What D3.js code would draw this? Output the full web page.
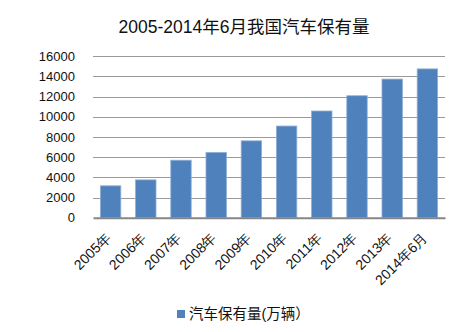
<!DOCTYPE html>
<html><head><meta charset="utf-8">
<script src="https://cdn.jsdelivr.net/npm/d3@7"></script>
<style>
body{margin:0;background:#fff;}
svg{display:block;font-family:"Liberation Sans","Noto Sans CJK SC",sans-serif;}
</style></head>
<body><svg id="c" width="462" height="332"></svg>
<script>
const categories = ["2005年","2006年","2007年","2008年","2009年","2010年","2011年","2012年","2013年","2014年6月"];
const values = [3160, 3750, 5697, 6467, 7619, 9086, 10578, 12089, 13741, 14750];
const yTicks = [0,2000,4000,6000,8000,10000,12000,14000,16000];
const title = "2005-2014年6月我国汽车保有量";
const seriesName = "汽车保有量(万辆）";

const svg = d3.select("#c");
const m = {l:93, r:17, t:56, b:114};
const W = 462, H = 332;
const x = d3.scaleBand().domain(categories).range([m.l, W-m.r]).paddingInner(0.42).paddingOuter(0.21);
const y = d3.scaleLinear().domain([0,16000]).range([217.7, 56.3]);

svg.append("text").attr("x",244).attr("y",33).attr("text-anchor","middle")
  .attr("font-size",17.5).attr("fill","#111").text(title);

// gridlines
svg.append("g").selectAll("line").data(yTicks.filter(d=>d>0)).join("line")
  .attr("x1",m.l).attr("x2",W-m.r).attr("y1",d=>Math.round(y(d))+0.5).attr("y2",d=>Math.round(y(d))+0.5)
  .attr("stroke","#9a9a9a").attr("stroke-width",1);

// y axis labels
const ya = svg.append("g").attr("transform",`translate(${m.l},0)`)
  .call(d3.axisLeft(y).tickValues(yTicks).tickSize(0).tickPadding(18).tickFormat(d3.format("d")));
ya.select(".domain").remove();
ya.selectAll("text").attr("font-size",13).attr("fill","#111").attr("font-family","Liberation Sans, sans-serif");

// bars
svg.append("g").selectAll("rect").data(values).join("rect")
  .attr("x",(d,i)=>x(categories[i])).attr("width",x.bandwidth())
  .attr("y",d=>y(d)).attr("height",d=>y(0)-y(d))
  .attr("fill","#4F81BD").attr("stroke","#8eaed6").attr("stroke-width",0.8);

// x axis
const xa = svg.append("g").attr("transform",`translate(0,${y(0)})`)
  .call(d3.axisBottom(x).tickSize(0).tickPadding(0));
xa.select(".domain").attr("stroke","#868686").attr("stroke-width",2);
xa.selectAll("text").attr("font-size",14).attr("fill","#111")
  .attr("text-anchor","end").attr("dy",0)
  .attr("transform","translate(1,21) rotate(-45)");

// legend
const lg = svg.append("g");
lg.append("rect").attr("x",177).attr("y",310).attr("width",8).attr("height",8).attr("fill","#4F81BD");
lg.append("text").attr("x",189).attr("y",319).attr("font-size",14.5).attr("fill","#111").text(seriesName);
</script></body></html>
